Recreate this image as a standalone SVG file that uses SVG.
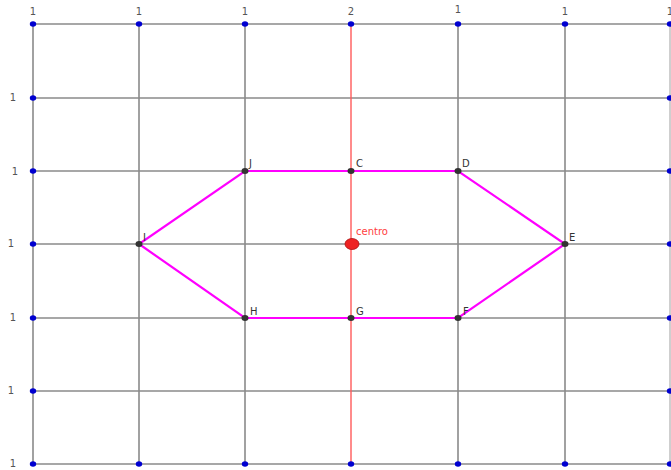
<svg xmlns="http://www.w3.org/2000/svg" width="671" height="470" viewBox="0 0 671 470">
<style>
.g{stroke:#8a8a8a;stroke-width:1.6;fill:none}
.r{stroke:#ff5a5a;stroke-width:1.4;fill:none}
.m{stroke:#ff00ff;stroke-width:2.2;fill:none}
.b{fill:#0000d0}
.p{fill:#333}
.t{font-family:"DejaVu Sans",sans-serif;font-size:10px;fill:#555}
.n{font-family:"DejaVu Sans",sans-serif;font-size:10px;fill:#333}
.c{font-family:"DejaVu Sans",sans-serif;font-size:10px;fill:#ff4040}
</style>
<rect width="671" height="470" fill="#fff"/>
<g id="grid">
<path class="g" d="M33,24H670M33,98H670M33,171H670M33,244H670M33,318H670M33,391H670M33,464H670"/>
<path class="g" d="M33,24V464M139,24V464M245,24V464M458,24V464M565,24V464"/>
<path stroke="#bbb" stroke-width="1.4" d="M670,24V464"/>
<path class="r" d="M351,24V464"/>
</g>
<g id="connectors">
<path class="m" d="M245,171H458L565,244L458,318H245L139,244Z"/>
</g>
<g id="border-points">
<ellipse class="b" cx="33" cy="24" rx="3.2" ry="2.8"/>
<ellipse class="b" cx="139" cy="24" rx="3.2" ry="2.8"/>
<ellipse class="b" cx="245" cy="24" rx="3.2" ry="2.8"/>
<ellipse class="b" cx="351" cy="24" rx="3.2" ry="2.8"/>
<ellipse class="b" cx="458" cy="24" rx="3.2" ry="2.8"/>
<ellipse class="b" cx="565" cy="24" rx="3.2" ry="2.8"/>
<ellipse class="b" cx="670" cy="24" rx="3.2" ry="2.8"/>
<ellipse class="b" cx="33" cy="98" rx="3.2" ry="2.8"/>
<ellipse class="b" cx="33" cy="171" rx="3.2" ry="2.8"/>
<ellipse class="b" cx="33" cy="244" rx="3.2" ry="2.8"/>
<ellipse class="b" cx="33" cy="318" rx="3.2" ry="2.8"/>
<ellipse class="b" cx="33" cy="391" rx="3.2" ry="2.8"/>
<ellipse class="b" cx="33" cy="464" rx="3.2" ry="2.8"/>
<ellipse class="b" cx="139" cy="464" rx="3.2" ry="2.8"/>
<ellipse class="b" cx="245" cy="464" rx="3.2" ry="2.8"/>
<ellipse class="b" cx="351" cy="464" rx="3.2" ry="2.8"/>
<ellipse class="b" cx="458" cy="464" rx="3.2" ry="2.8"/>
<ellipse class="b" cx="565" cy="464" rx="3.2" ry="2.8"/>
<ellipse class="b" cx="670" cy="464" rx="3.2" ry="2.8"/>
<ellipse class="b" cx="670" cy="98" rx="3.2" ry="2.8"/>
<ellipse class="b" cx="670" cy="171" rx="3.2" ry="2.8"/>
<ellipse class="b" cx="670" cy="244" rx="3.2" ry="2.8"/>
<ellipse class="b" cx="670" cy="318" rx="3.2" ry="2.8"/>
<ellipse class="b" cx="670" cy="391" rx="3.2" ry="2.8"/>
</g>
<g id="grid-labels">
<text class="t" x="33" y="15" text-anchor="middle">1</text>
<text class="t" x="139" y="15" text-anchor="middle">1</text>
<text class="t" x="245" y="15" text-anchor="middle">1</text>
<text class="t" x="351" y="15" text-anchor="middle">2</text>
<text class="t" x="458" y="13" text-anchor="middle">1</text>
<text class="t" x="565" y="15" text-anchor="middle">1</text>
<text class="t" x="670" y="15" text-anchor="middle">1</text>
<text class="t" x="13" y="101" text-anchor="middle">1</text>
<text class="t" x="15" y="175" text-anchor="middle">1</text>
<text class="t" x="11" y="247" text-anchor="middle">1</text>
<text class="t" x="13" y="321" text-anchor="middle">1</text>
<text class="t" x="11" y="394" text-anchor="middle">1</text>
<text class="t" x="13" y="467" text-anchor="middle">1</text>
</g>
<g id="J"><ellipse class="p" cx="245" cy="171" rx="3.5" ry="3"/><text class="n" x="249" y="167">J</text></g>
<g id="C"><ellipse class="p" cx="351" cy="171" rx="3.5" ry="3"/><text class="n" x="356" y="167">C</text></g>
<g id="D"><ellipse class="p" cx="458" cy="171" rx="3.5" ry="3"/><text class="n" x="462" y="167">D</text></g>
<g id="E"><ellipse class="p" cx="565" cy="244" rx="3.5" ry="3"/><text class="n" x="569" y="241">E</text></g>
<g id="F"><ellipse class="p" cx="458" cy="318" rx="3.5" ry="3"/><text class="n" x="463" y="315">F</text></g>
<g id="G"><ellipse class="p" cx="351" cy="318" rx="3.5" ry="3"/><text class="n" x="356" y="315">G</text></g>
<g id="H"><ellipse class="p" cx="245" cy="318" rx="3.5" ry="3"/><text class="n" x="250" y="315">H</text></g>
<g id="I"><ellipse class="p" cx="139" cy="244" rx="3.5" ry="3"/><text class="n" x="143" y="241">I</text></g>
<g id="centro"><ellipse cx="352" cy="244" rx="7" ry="5.5" fill="#ee2222" stroke="#aa1111" stroke-width="0.8"/><text class="c" x="356" y="235">centro</text></g>
</svg>
